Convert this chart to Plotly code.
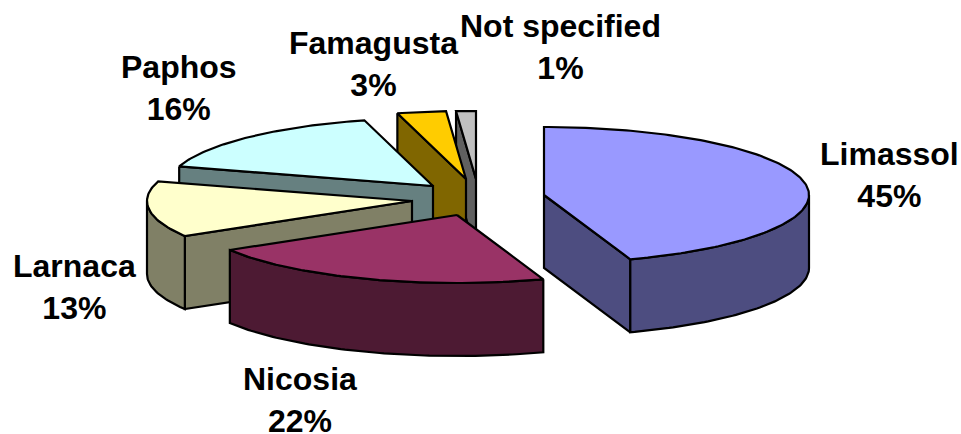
import math
import plotly.graph_objects as go

regions = ["Limassol", "Nicosia", "Larnaca", "Paphos", "Famagusta", "Not specified"]
shares = [44.72, 21.67, 13.25, 16.19, 2.97, 1.2]

# Styles and layout (pixel-space geometry of the exploded 3D pie)
TOP = ["#9999FF", "#993366", "#FFFFCC", "#CCFFFF", "#FFCC00", "#C0C0C0"]
SIDE = ["#4D4D80", "#4D1A33", "#808066", "#668080", "#806600", "#606060"]
APEX = [(544, 195), (457, 215), (412, 201), (433, 186), (466, 179), (476, 179)]
LABEL_POS = [(889, 175), (300, 400), (74, 287), (179, 88), (373, 64), (560, 47)]
RX, RY, DEPTH = 265, 68, 73
PAINT_ORDER = [5, 4, 3, 2, 1, 0]

total = sum(shares)
ends, acc = [], 0
for s in shares:
    starts = acc
    acc += s * 360 / total
    ends.append((starts, acc))


def rim(c, deg):
    r = math.radians(deg)
    return c[0] + RX * math.sin(r), c[1] - RY * math.cos(r)


def arc(c, a0, a1):
    n = max(2, int(abs(a1 - a0)) + 1)
    return [rim(c, a0 + (a1 - a0) * i / (n - 1)) for i in range(n)]


fig = go.Figure()


def poly(pts, fill):
    xs = [p[0] for p in pts] + [pts[0][0]]
    ys = [p[1] for p in pts] + [pts[0][1]]
    fig.add_trace(go.Scatter(x=xs, y=ys, mode="lines", fill="toself", fillcolor=fill,
                             line=dict(color="black", width=2.2), hoverinfo="skip",
                             showlegend=False))


def down(pts):
    return [(x, y + DEPTH) for x, y in pts]


for i in PAINT_ORDER:
    a0, a1 = ends[i]
    c = APEX[i]
    # radial walls that face the viewer
    if math.sin(math.radians(a0)) < -1e-6:
        edge = [rim(c, a0), c]
        poly(edge + down(edge)[::-1], SIDE[i])
    if math.sin(math.radians(a1)) > 1e-6:
        edge = [c, rim(c, a1)]
        poly(edge + down(edge)[::-1], SIDE[i])
    # outer curved wall (front half only)
    lo, hi = max(a0, 90), min(a1, 270)
    if hi > lo:
        outer = arc(c, lo, hi)
        poly(outer + down(outer)[::-1], SIDE[i])
    # top face
    poly([c] + arc(c, a0, a1), TOP[i])

for name, s, (x, y) in zip(regions, shares, LABEL_POS):
    fig.add_annotation(x=x, y=y, xref="x", yref="y", text=f"<b>{name}<br>{round(s)}%</b>",
                       showarrow=False, xanchor="center", yanchor="middle", align="center",
                       font=dict(family="Liberation Sans, Arial, sans-serif", size=32, color="black"))

fig.update_xaxes(range=[0, 961], visible=False, fixedrange=True)
fig.update_yaxes(range=[434, 0], visible=False, fixedrange=True)
fig.update_layout(width=961, height=434, margin=dict(l=0, r=0, t=0, b=0),
                  paper_bgcolor="white", plot_bgcolor="white", showlegend=False)
fig.write_html("out.html", config={"displayModeBar": False},
               post_script="document.body.style.margin='0';document.body.style.overflow='hidden';")
